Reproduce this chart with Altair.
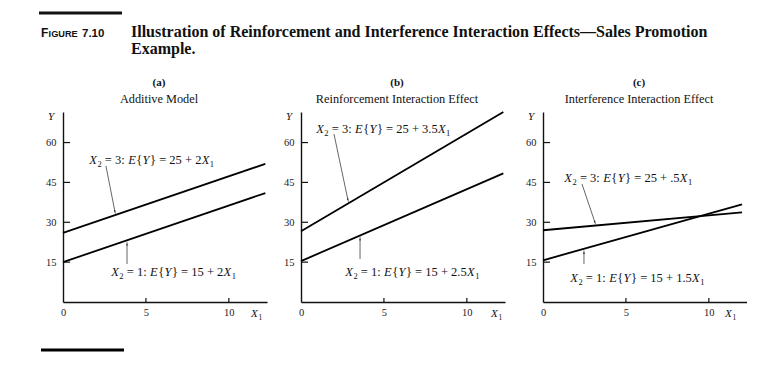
import re
import altair as alt
import numpy as np
import pandas as pd

# ---------------- data ----------------
panel_letters = ["(a)", "(b)", "(c)"]
panel_names = ["Additive Model", "Reinforcement Interaction Effect", "Interference Interaction Effect"]

# line end points (X1 = 0 and X1 = x_end), as drawn
x_end = [12.2, 12.2, 12.0]
upper_y0 = [26.0, 26.6, 27.0]   # X2 = 3
upper_y1 = [52.0, 71.5, 33.7]
lower_y0 = [15.0, 15.4, 15.7]   # X2 = 1
lower_y1 = [41.0, 48.4, 36.7]

# *...* = italic, _..._ = subscript
upper_labels = ["*X*_2_ = 3: *E*{*Y*} = 25 + 2*X*_1_",
                "*X*_2_ = 3: *E*{*Y*} = 25 + 3.5*X*_1_",
                "*X*_2_ = 3: *E*{*Y*} = 25 + .5*X*_1_"]
lower_labels = ["*X*_2_ = 1: *E*{*Y*} = 15 + 2*X*_1_",
                "*X*_2_ = 1: *E*{*Y*} = 15 + 2.5*X*_1_",
                "*X*_2_ = 1: *E*{*Y*} = 15 + 1.5*X*_1_"]
upper_label_x = [1.57, 0.90, 1.27]
upper_label_y = [53.4, 65.1, 46.7]
lower_label_x = [2.89, 2.65, 1.63]
lower_label_y = [11.3, 11.3, 9.0]

# arrows: tail (label side) -> head (at the line)
up_arrow_tail_x = [2.59, 1.99, 2.35]
up_arrow_tail_y = [51.2, 63.2, 44.4]
up_arrow_head_x = [3.13, 2.83, 3.13]
up_arrow_head_y = [34.0, 38.4, 30.0]
lo_arrow_tail_x = [3.86, 3.56, 2.47]
lo_arrow_tail_y = [14.3, 16.2, 14.3]
lo_arrow_head_x = [3.86, 3.56, 2.47]
lo_arrow_head_y = [21.9, 23.7, 18.7]

y_ticks = [15, 30, 45, 60]
x_ticks = [0, 5, 10]
x_tick_marks = [5, 10]

fig_label = ["F", "IGURE", "7.10"]
title_lines = ["Illustration of Reinforcement and Interference Interaction Effects\u2014Sales Promotion",
               "Example."]

# ---------------- styling ----------------
W, H = 204, 190
XDOM = [0, 12.3]
YDOM = [0, 71.5]
SERIF = "Liberation Serif"
SANS = "Liberation Sans"
INK = "#111111"
anchors = [55, 22, 26]
x1_label_pos = [188, 190, 182]
HX = -63  # header origin is aligned with panel (a) plot origin (page x = 63)
FS = 12.5      # label font size
SUB = 8.5      # subscript size

px_x = W / (XDOM[1] - XDOM[0])
px_y = H / (YDOM[1] - YDOM[0])

# Times / Liberation Serif advance widths (per 1 em)
ROMAN_W = {" ": .25, "=": .564, ":": .278, "{": .48, "}": .48, "+": .564, ".": .25}
ITAL_W = {"X": .611, "E": .611, "Y": .556}


def char_w(ch, kind):
    if kind == "it":
        return ITAL_W.get(ch, .6)
    if ch.isdigit():
        return .5
    return ROMAN_W.get(ch, .5)


def parse(markup):
    out = []
    for tok in re.findall(r"\*[^*]+\*|_[^_]+_|[^*_]+", markup):
        if tok.startswith("*"):
            out.append((tok[1:-1], "it"))
        elif tok.startswith("_"):
            out.append((tok[1:-1], "sub"))
        else:
            out.append((tok, "rm"))
    return out


def layout_label(markup, x0, y0):
    """Return rows (x, y, text, kind) in data units for each segment."""
    rows = []
    cur = 0.0
    base = y0 - 4.2 / px_y
    for text, kind in parse(markup):
        size = SUB if kind == "sub" else FS
        lead = len(text) - len(text.lstrip(" "))
        start = cur + lead * ROMAN_W[" "] * size
        if kind == "it":
            start += 0.3
        shown = text.strip(" ")
        w = sum(char_w(c, kind) * size for c in text)
        if kind == "it":
            w += 0.8
        cur += w
        yy = base - (3.0 / px_y if kind == "sub" else 0)
        rows.append({"x": x0 + start / px_x, "y": yy, "t": shown, "k": kind})
    return rows


def make_panel(i):
    X = alt.X("x:Q", scale=alt.Scale(domain=XDOM, nice=False, zero=False),
              axis=alt.Axis(values=x_ticks, ticks=False, grid=False, title=None,
                            labelFont=SERIF, labelFontSize=10.5, labelColor="#222",
                            labelPadding=5, labelFlush=False, domainColor=INK, domainWidth=1.4,
                            format="d"))
    Y = alt.Y("y:Q", scale=alt.Scale(domain=YDOM, nice=False, zero=False),
              axis=alt.Axis(values=y_ticks, ticks=False, grid=False, title=None,
                            labelFont=SERIF, labelFontSize=10.5, labelColor="#222",
                            labelPadding=7, domainColor=INK, domainWidth=1.4, format="d"))

    lines = pd.DataFrame({
        "x": [0, x_end[i], 0, x_end[i]],
        "y": [upper_y0[i], upper_y1[i], lower_y0[i], lower_y1[i]],
        "s": ["X2=3", "X2=3", "X2=1", "X2=1"],
    })
    line_layer = alt.Chart(lines).mark_line(color="black", strokeWidth=1.8).encode(
        x=X, y=Y, detail="s:N")

    yt = pd.DataFrame({"y": y_ticks})
    ytick_layer = alt.Chart(yt).mark_rule(color=INK, strokeWidth=1.2).encode(
        y=Y, x=alt.value(0), x2=alt.value(7))
    xt = pd.DataFrame({"x": x_tick_marks})
    xtick_layer = alt.Chart(xt).mark_rule(color=INK, strokeWidth=1.2).encode(
        x=X, y=alt.value(H), y2=alt.value(H - 4))

    rows = (layout_label(upper_labels[i], upper_label_x[i], upper_label_y[i]) +
            layout_label(lower_labels[i], lower_label_x[i], lower_label_y[i]))
    seg = pd.DataFrame(rows)
    txt_rm = alt.Chart(seg[seg.k == "rm"]).mark_text(
        align="left", baseline="alphabetic", font=SERIF, fontSize=FS, color="#111"
    ).encode(x=X, y=Y, text="t:N")
    txt_it = alt.Chart(seg[seg.k == "it"]).mark_text(
        align="left", baseline="alphabetic", font=SERIF, fontStyle="italic", fontSize=FS, color="#111"
    ).encode(x=X, y=Y, text="t:N")
    txt_sub = alt.Chart(seg[seg.k == "sub"]).mark_text(
        align="left", baseline="alphabetic", font=SERIF, fontSize=SUB, color="#111"
    ).encode(x=X, y=Y, text="t:N")

    tx = [up_arrow_tail_x[i], lo_arrow_tail_x[i]]
    ty = [up_arrow_tail_y[i], lo_arrow_tail_y[i]]
    hx = [up_arrow_head_x[i], lo_arrow_head_x[i]]
    hy = [up_arrow_head_y[i], lo_arrow_head_y[i]]
    ang = []
    for a, b, c, d in zip(tx, ty, hx, hy):
        dxp = (c - a) * px_x
        dyp = -(d - b) * px_y
        ang.append(float(np.degrees(np.arctan2(dxp, -dyp)) % 360))
    arrows = pd.DataFrame({"x": tx, "y": ty, "x2": hx, "y2": hy, "angle": ang})
    arrow_layer = alt.Chart(arrows).mark_rule(color="#555", strokeWidth=0.9).encode(
        x=X, y=Y, x2="x2:Q", y2="y2:Q")
    heads = arrows[["x2", "y2", "angle"]].rename(columns={"x2": "x", "y2": "y"})
    head_layer = alt.Chart(heads).mark_point(
        shape="wedge", filled=True, color="#222", size=30, opacity=1
    ).encode(x=X, y=Y, angle=alt.Angle("angle:Q", scale=None))

    d1 = pd.DataFrame({"k": [0]})
    title1 = alt.Chart(d1).mark_text(
        text=panel_letters[i], font=SERIF, fontWeight="bold", fontSize=11,
        align="center", baseline="alphabetic", color="#111"
    ).encode(x=alt.value(W / 2 - 6), y=alt.value(-26))
    title2 = alt.Chart(d1).mark_text(
        text=panel_names[i], font=SERIF, fontSize=12.3,
        align="center", baseline="alphabetic", color="#111"
    ).encode(x=alt.value(W / 2 - 6), y=alt.value(-9))
    ylab = alt.Chart(d1).mark_text(
        text="Y", font=SERIF, fontStyle="italic", fontSize=11,
        align="right", baseline="middle", color="#111"
    ).encode(x=alt.value(-9), y=alt.value(5))
    xlab = alt.Chart(d1).mark_text(
        text="X", font=SERIF, fontStyle="italic", fontSize=11,
        align="left", baseline="alphabetic", color="#111"
    ).encode(x=alt.value(x1_label_pos[i]), y=alt.value(H + 15))
    xlab_sub = alt.Chart(d1).mark_text(
        text="1", font=SERIF, fontSize=7.5,
        align="left", baseline="alphabetic", color="#111"
    ).encode(x=alt.value(x1_label_pos[i] + 7.5), y=alt.value(H + 17.5))
    anchor = alt.Chart(d1).mark_rule(opacity=0).encode(
        x=alt.value(-anchors[i]), x2=alt.value(-anchors[i] + 1),
        y=alt.value(0), y2=alt.value(1))

    layers = [line_layer, ytick_layer, xtick_layer, arrow_layer, head_layer,
              txt_rm, txt_it, txt_sub, title1, title2, ylab, xlab, xlab_sub, anchor]
    if i == 0:
        bottom_rule = alt.Chart(d1).mark_rule(color="black", strokeWidth=3).encode(
            x=alt.value(-22), x2=alt.value(61), y=alt.value(238))
        layers.append(bottom_rule)
    return alt.layer(*layers).properties(width=W, height=H)


panels = alt.hconcat(*[make_panel(i) for i in range(3)], spacing=10)

# ---------------- header ----------------
hd = pd.DataFrame({"k": [0]})
h_anchor = alt.Chart(hd).mark_rule(opacity=0).encode(
    x=alt.value(0), x2=alt.value(1), y=alt.value(0), y2=alt.value(1))
top_rule = alt.Chart(hd).mark_rule(color="#111", strokeWidth=3).encode(
    x=alt.value(39 + HX), x2=alt.value(122 + HX), y=alt.value(5))
f1 = alt.Chart(hd).mark_text(text=fig_label[0], font=SANS, fontWeight="bold", fontSize=12,
                             align="left", baseline="alphabetic", color="#111").encode(
    x=alt.value(41 + HX), y=alt.value(29))
f2 = alt.Chart(hd).mark_text(text=fig_label[1], font=SANS, fontWeight="bold", fontSize=9.2,
                             align="left", baseline="alphabetic", color="#111").encode(
    x=alt.value(48.6 + HX), y=alt.value(29))
f3 = alt.Chart(hd).mark_text(text=fig_label[2], font=SANS, fontWeight="bold", fontSize=11.5,
                             align="left", baseline="alphabetic", color="#111").encode(
    x=alt.value(82 + HX), y=alt.value(29))
t1 = alt.Chart(hd).mark_text(text=title_lines[0], font=SERIF, fontWeight="bold", fontSize=16,
                             align="left", baseline="alphabetic", color="#111").encode(
    x=alt.value(131 + HX), y=alt.value(29))
t2 = alt.Chart(hd).mark_text(text=title_lines[1], font=SERIF, fontWeight="bold", fontSize=16,
                             align="left", baseline="alphabetic", color="#111").encode(
    x=alt.value(131 + HX), y=alt.value(46))
header = alt.layer(h_anchor, top_rule, f1, f2, f3, t1, t2).properties(width=600, height=69)

chart = alt.vconcat(header, panels, spacing=0).properties(
    padding={"left": 0, "top": 0, "right": 0, "bottom": 0},
    background="white",
).configure_view(stroke=None)

chart.save("out.html", embed_options={"renderer": "svg", "actions": False})
